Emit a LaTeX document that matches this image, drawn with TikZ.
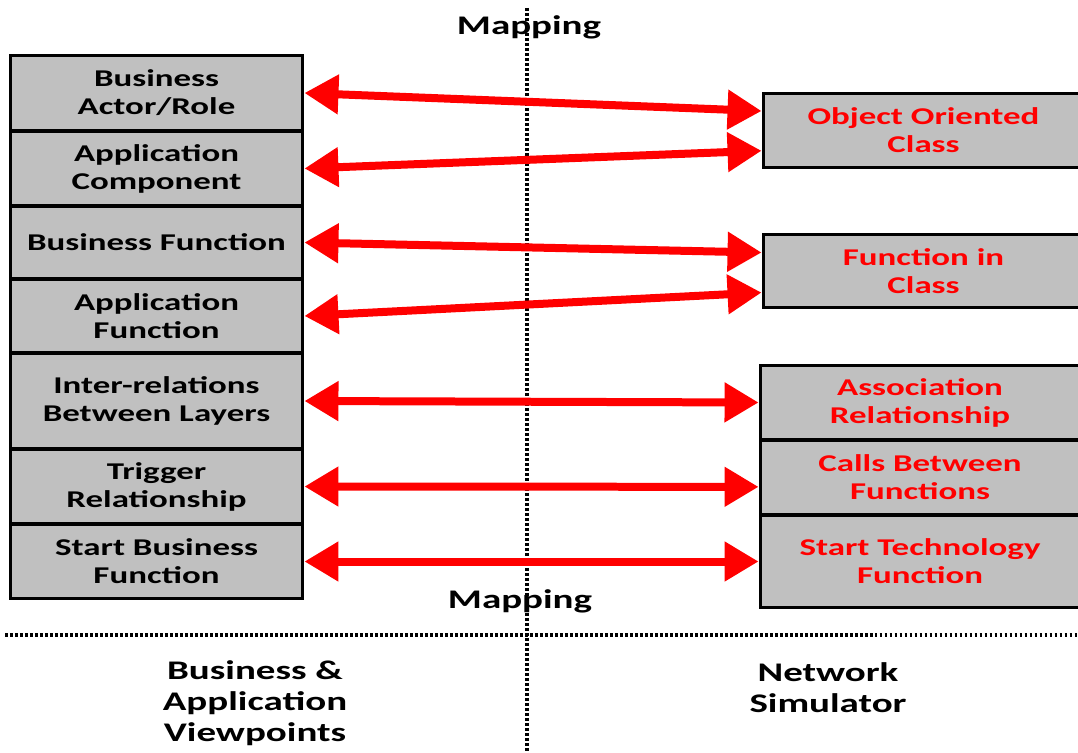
\documentclass[tikz,border=0pt]{standalone}
\usepackage{fontspec}
\setmainfont{Carlito}[FakeStretch=1.45]
\usetikzlibrary{arrows.meta,calc}
\definecolor{boxgray}{HTML}{C0C0C0}
\definecolor{arrred}{HTML}{FF0000}
\begin{document}
\begin{tikzpicture}[x=0.02cm,y=-0.02cm,
  lbox/.style={draw=black, line width=0.06cm, fill=boxgray, minimum width=5.86cm,
    align=center, inner sep=0pt, font=\bfseries\fontsize{13.7}{16}\selectfont},
  rbox/.style={lbox, text=arrred},
  maparrow/.style={draw=arrred, line width=0.16cm,
    {Triangle[length=0.68cm,width=0.76cm]}-{Triangle[length=0.68cm,width=0.76cm]}},
  dotline/.style={draw=black, line width=0.07cm, dash pattern=on 0.055cm off 0.045cm},
  lbl/.style={align=center, inner sep=0pt, font=\bfseries\fontsize{15.3}{17.6}\selectfont}
]
\useasboundingbox (0,0) rectangle (1078,753);
% dotted guide lines
\coordinate (vtop) at (527,8);
\coordinate (vbot) at (527,753);
\coordinate (hl) at (5,635);
\coordinate (hr) at (1078,635);
\draw[dotline] (vtop) -- (vbot);
\draw[dotline] (hl) -- (hr);
% left boxes
\node[lbox, minimum height=1.52cm] (l1) at (156.5,93) {Business\\Actor/Role};
\node[lbox, minimum height=1.50cm] (l2) at (156.5,168.5) {Application\\Component};
\node[lbox, minimum height=1.46cm] (l3) at (156.5,242.5) {Business Function};
\node[lbox, minimum height=1.48cm] (l4) at (156.5,316) {Application\\Function};
\node[lbox, minimum height=1.92cm] (l5) at (156.5,401) {Inter-relations\\Between Layers};
\node[lbox, minimum height=1.50cm] (l6) at (156.5,486.5) {Trigger\\Relationship};
\node[lbox, minimum height=1.50cm] (l7) at (156.5,561.5) {Start Business\\Function};
% right boxes
\node[rbox, minimum width=6.42cm, minimum height=1.50cm] (r1) at (923.5,130.5) {Object Oriented\\Class};
\node[rbox, minimum width=6.42cm, minimum height=1.48cm] (r2) at (923.5,271) {Function in\\Class};
\node[rbox, minimum width=6.40cm, minimum height=1.50cm] (r3) at (920,402.5) {Association\\Relationship};
\node[rbox, minimum width=6.40cm, minimum height=1.50cm] (r4) at (920,477.5) {Calls Between\\Functions};
\node[rbox, minimum width=6.40cm, minimum height=1.86cm] (r5) at (920,561.5) {Start Technology\\Function};
% arrows
\draw[maparrow] (l1.east) -- ($(r1.north west)!0.25!(r1.south west)$);
\draw[maparrow] (l2.east) -- ($(r1.north west)!0.76!(r1.south west)$);
\draw[maparrow] (l3.east) -- ($(r2.north west)!0.26!(r2.south west)$);
\draw[maparrow] (l4.east) -- ($(r2.north west)!0.78!(r2.south west)$);
\draw[maparrow] (l5.east) -- (r3.west);
\draw[maparrow] (l6.east) -- ($(r4.north west)!0.62!(r4.south west)$);
\draw[maparrow] (l7.east) -- (r5.west);
% labels
\node[lbl] (maptop) at (529,27) {Mapping};
\node[lbl] (mapbot) at (520,601) {Mapping};
\node[lbl] (bav) at (255,703) {Business \&\\Application\\Viewpoints};
\node[lbl] (ns) at (828,688) {Network\\Simulator};
\end{tikzpicture}
\end{document}
